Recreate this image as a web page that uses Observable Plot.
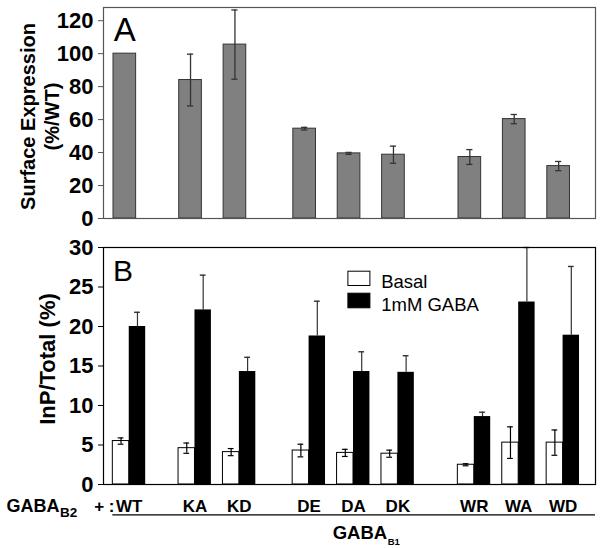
<!DOCTYPE html>
<html><head><meta charset="utf-8">
<script src="https://cdn.jsdelivr.net/npm/d3@7"></script>
<script src="https://cdn.jsdelivr.net/npm/@observablehq/plot@0.6"></script>
<style>
html,body{margin:0;padding:0;background:#fff;}
#chart svg{display:block;}
</style></head><body><div id="chart"></div>
<script>
// ---- data ----
const categories = ["WT","KA","KD","DE","DA","DK","WR","WA","WD"];
const groupOf = [0,1,1,2,2,2,3,3,3];
const surface    = [100, 84, 105.5, 54.5, 39.5, 38.7, 37.3, 60.3, 31.8];
const surfaceErr = [0, 15.7, 21, 0.8, 0.6, 5.2, 4.5, 2.8, 2.8];
const basal      = [5.5, 4.6, 4.1, 4.3, 4.0, 3.9, 2.5, 5.3, 5.3];
const basalErr   = [0.4, 0.65, 0.45, 0.8, 0.45, 0.45, 0.13, 2.0, 1.6];
const gaba       = [20.0, 22.1, 14.3, 18.8, 14.3, 14.2, 8.6, 23.1, 18.9];
const gabaErr    = [1.8, 4.4, 1.8, 4.4, 2.5, 2.1, 0.55, 6.9, 8.7];
const yTicksA = [0,20,40,60,80,100,120];
const yTicksB = [0,5,10,15,20,25,30];
const seriesNames = ["Basal","1mM GABA"];

// ---- layout ----
const W = 605, ML = 103, MR = 10;
const gapAfterGroup = [0.48, 0.57, 0.72];
const pos = categories.map((c,i) => i + gapAfterGroup.slice(0, groupOf[i]).reduce((a,b)=>a+b,0));
const xDomain = [-0.58, 10.5];
const rows = categories.map((c,i)=>({cat:c, p:pos[i], s:surface[i], se:surfaceErr[i],
  b:basal[i], be:basalErr[i], g:gaba[i], ge:gabaErr[i]}));
const font = "'Liberation Sans', Arial, Helvetica, sans-serif";
const tickFont = "'Liberation Sans Narrow','Arial Narrow','Liberation Sans', Arial, sans-serif";

const aw = 0.255, aoff = -0.1, capA = 0.07;
const withErr = rows.filter(d => d.se > 0);
const plotA = Plot.plot({
  width: W, height: 222, marginLeft: ML, marginRight: MR, marginTop: 7, marginBottom: 4,
  style: {fontFamily: font, background: "white", overflow: "visible"},
  x: {domain: xDomain, axis: null},
  y: {domain: [0,128], axis: null},
  marks: [
    Plot.rectY(rows, {x1: d=>d.p+aoff-aw, x2: d=>d.p+aoff+aw, y1: 0, y2: "s", fill: "#808080", stroke: "#333", strokeWidth: 1}),
    Plot.ruleX(withErr, {x: d=>d.p+aoff, y1: d=>d.s-d.se, y2: d=>d.s+d.se, stroke:"#333", strokeWidth:1.3}),
    Plot.ruleY(withErr, {x1: d=>d.p+aoff-capA, x2: d=>d.p+aoff+capA, y: d=>d.s+d.se, stroke:"#333", strokeWidth:1.3}),
    Plot.ruleY(withErr, {x1: d=>d.p+aoff-capA, x2: d=>d.p+aoff+capA, y: d=>d.s-d.se, stroke:"#333", strokeWidth:1.3}),
    Plot.frame({stroke:"#555", strokeWidth:1.2}),
    Plot.axisY(yTicksA, {tickSize:5, tickPadding:5, stroke:"#555", fill:"black", fontSize:22, fontWeight:"bold", fontFamily: tickFont, label:null}),
    Plot.text(["A"], {frameAnchor:"top-left", dx:10.3, dy:33.7, lineAnchor:"bottom", textAnchor:"start", fontSize:33}),
    Plot.text(["Surface Expression\n(%/WT)"], {frameAnchor:"left", textAnchor:"middle", lineAnchor:"middle", rotate:-90, dx:-64, dy:3.5, fontSize:20, fontWeight:"bold", lineHeight:1.2})
  ]
});

const bw = 0.37, capB = 0.065;
const plotB = Plot.plot({
  width: W, height: 326, marginLeft: ML, marginRight: MR, marginTop: 25, marginBottom: 64,
  style: {fontFamily: font, background: "white", overflow: "visible"},
  x: {domain: xDomain, axis: null},
  y: {domain: [0,30], axis: null},
  marks: [
    Plot.rectY(rows, {x1: d=>d.p-bw, x2: "p", y1: 0, y2: "b", fill:"white", stroke:"black", strokeWidth:1}),
    Plot.rectY(rows, {x1: "p", x2: d=>d.p+bw, y1: 0, y2: "g", fill:"black"}),
    Plot.ruleX(rows, {x: d=>d.p-bw/2, y1: d=>d.b-d.be, y2: d=>d.b+d.be, stroke:"black", strokeWidth:1.2}),
    Plot.ruleY(rows, {x1: d=>d.p-bw/2-capB, x2: d=>d.p-bw/2+capB, y: d=>d.b+d.be, stroke:"black", strokeWidth:1.2}),
    Plot.ruleY(rows, {x1: d=>d.p-bw/2-capB, x2: d=>d.p-bw/2+capB, y: d=>d.b-d.be, stroke:"black", strokeWidth:1.2}),
    Plot.ruleX(rows, {x: d=>d.p+bw/2, y1: "g", y2: d=>d.g+d.ge, stroke:"#333", strokeWidth:1.2}),
    Plot.ruleY(rows, {x1: d=>d.p+bw/2-capB, x2: d=>d.p+bw/2+capB, y: d=>d.g+d.ge, stroke:"#333", strokeWidth:1.4}),
    Plot.frame({stroke:"black", strokeWidth:1.2}),
    // legend
    Plot.frame({fill:"white", stroke:"black", insetLeft:244.4, insetRight:225.6, insetTop:23.7, insetBottom:199}),
    Plot.frame({fill:"black", stroke:"black", insetLeft:244.4, insetRight:225.6, insetTop:45.7, insetBottom:176.7}),
    Plot.text([seriesNames[0]], {frameAnchor:"top-left", dx:277.7, dy:40.3, lineAnchor:"bottom", textAnchor:"start", fontSize:18.5}),
    Plot.text([seriesNames[1]], {frameAnchor:"top-left", dx:277.7, dy:63.7, lineAnchor:"bottom", textAnchor:"start", fontSize:18.5}),
    Plot.axisY(yTicksB, {tickSize:5, tickPadding:5, stroke:"black", fill:"black", fontSize:22, fontWeight:"bold", fontFamily: tickFont, label:null}),
    Plot.text(["B"], {frameAnchor:"top-left", dx:9.6, dy:33.7, lineAnchor:"bottom", textAnchor:"start", fontSize:30}),
    Plot.text(["InP/Total (%)"], {frameAnchor:"left", textAnchor:"middle", lineAnchor:"middle", rotate:-90, dx:-56, dy:-7, fontSize:22, fontWeight:"bold"}),
    // category labels
    Plot.text(rows, {x: "p", text: "cat", frameAnchor:"bottom", textAnchor:"middle", lineAnchor:"top", dy:15, fontSize:17, fontWeight:"bold"}),
    Plot.ruleY([0], {x1: pos[0]-bw, x2: xDomain[1], dy: 30.3, stroke:"black", strokeWidth:1.2}),
    Plot.text(["GABA"], {frameAnchor:"bottom-left", textAnchor:"end", lineAnchor:"top", dx:-44, dy:14.5, fontSize:18, fontWeight:"bold"}),
    Plot.text(["B2"], {frameAnchor:"bottom-left", textAnchor:"start", lineAnchor:"top", dx:-43.5, dy:23, fontSize:13.5, fontWeight:"bold"}),
    Plot.text(["+ :"], {frameAnchor:"bottom-left", textAnchor:"end", lineAnchor:"top", dx:11, dy:15, fontSize:17, fontWeight:"bold"}),
    Plot.text(["GABA"], {frameAnchor:"bottom", textAnchor:"end", lineAnchor:"top", dx:37.7, dy:41, fontSize:18.5, fontWeight:"bold"}),
    Plot.text(["B1"], {frameAnchor:"bottom", textAnchor:"start", lineAnchor:"top", dx:38.2, dy:53.5, fontSize:9.5, fontWeight:"bold"})
  ]
});
document.getElementById("chart").append(plotA, plotB);
</script></body></html>
